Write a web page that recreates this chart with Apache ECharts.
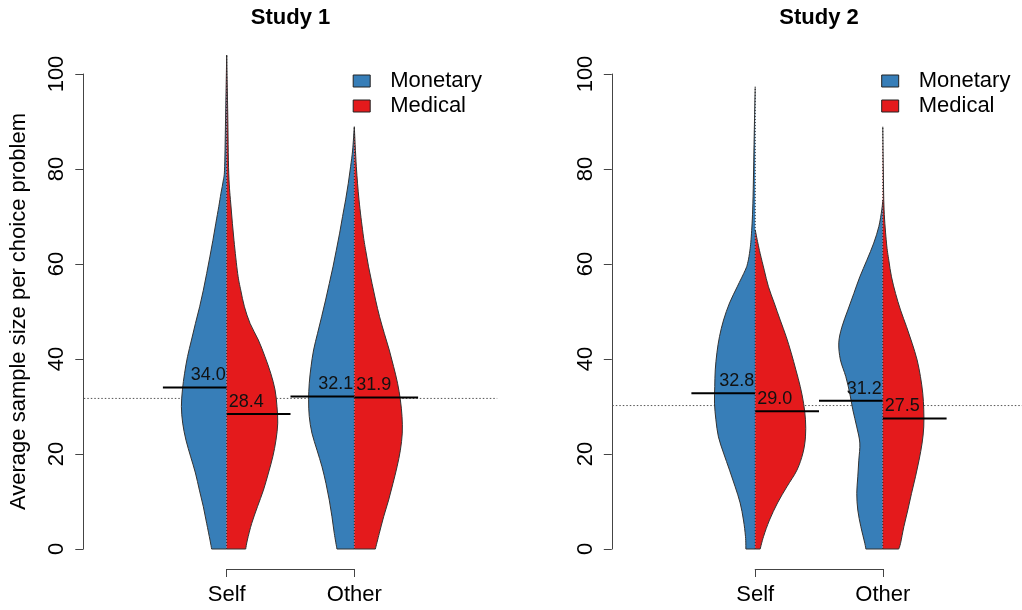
<!DOCTYPE html>
<html>
<head>
<meta charset="utf-8">
<script src="https://cdn.jsdelivr.net/npm/echarts@6/dist/echarts.min.js"></script>
<style>
html, body { margin: 0; padding: 0; background: #fff; }
#chart { width: 1022px; height: 610px; }
</style>
</head>
<body>
<div id="chart"></div>
<script>
// ---------------- DATA ----------------
const categories = ['Self', 'Other'];
const groupNames = ['Monetary', 'Medical'];
const studyTitles = ['Study 1', 'Study 2'];
const yAxisTitle = 'Average sample size per choice problem';
const yMin = 0, yMax = 100, yStep = 20;

const study1MonetaryMeans = [34.0, 32.1];
const study1MedicalMeans = [28.4, 31.9];
const study2MonetaryMeans = [32.8, 31.2];
const study2MedicalMeans = [29.0, 27.5];
const referenceLines = [31.7, 30.2];

// density profiles: [sample size, half-width as fraction of category spacing]
const study1SelfMonetary = [[104,0],[92,0.008],[80.5,0.016],[77.7,0.026],[74.9,0.045],[72.1,0.062],[68.6,0.085],[65,0.108],[61.5,0.132],[58,0.157],[54.5,0.183],[51,0.212],[47.5,0.245],[44,0.276],[40.5,0.307],[37,0.330],[33.5,0.347],[30,0.355],[26.5,0.345],[22.9,0.319],[19.4,0.282],[16,0.245],[12.4,0.214],[8.9,0.183],[5.4,0.157],[1.9,0.131],[0,0.118]];
const study1SelfMedical = [[104,0],[92,0.008],[79,0.016],[72,0.034],[65,0.057],[58,0.086],[54.5,0.110],[51,0.139],[47.5,0.183],[44,0.248],[40.5,0.300],[37,0.345],[33.5,0.379],[30,0.394],[26.5,0.400],[22.9,0.386],[19.4,0.361],[16,0.327],[12.4,0.288],[8.9,0.241],[5.4,0.196],[1.9,0.162],[0,0.149]];
const study1OtherMonetary = [[88.9,0],[84,0.013],[80.5,0.029],[77,0.047],[73.5,0.068],[70,0.092],[66.5,0.115],[62.9,0.141],[59.4,0.167],[55.9,0.196],[52.4,0.225],[48.9,0.256],[45.4,0.288],[41.9,0.319],[38.4,0.339],[34.9,0.353],[31.4,0.358],[27.9,0.353],[24.4,0.332],[20.8,0.292],[17.3,0.253],[13.8,0.222],[10.3,0.196],[6.8,0.175],[3.3,0.157],[0,0.136]];
const study1OtherMedical = [[88.9,0],[80.5,0.016],[73.5,0.037],[66.5,0.068],[62.9,0.089],[59.4,0.112],[55.9,0.139],[52.4,0.167],[48.9,0.198],[45.4,0.235],[41.9,0.274],[38.4,0.308],[34.9,0.339],[31.4,0.361],[27.9,0.374],[24.4,0.376],[20.8,0.361],[17.3,0.335],[13.8,0.303],[10.3,0.269],[6.8,0.230],[3.3,0.196],[0,0.165]];
const study2SelfMonetary = [[97.3,0],[86.8,0.008],[72.8,0.018],[65.7,0.031],[62.2,0.045],[60.1,0.060],[58.7,0.078],[55.2,0.141],[51.8,0.201],[48.2,0.248],[44.7,0.280],[41.3,0.300],[37.7,0.313],[34.2,0.317],[30.7,0.319],[27.2,0.308],[23.6,0.288],[20.2,0.248],[16.6,0.201],[13.1,0.157],[9.7,0.118],[6.1,0.092],[2.6,0.076],[0,0.073]];
const study2SelfMedical = [[67.2,0],[64.4,0.021],[62.2,0.039],[58.7,0.071],[55.2,0.104],[51.8,0.149],[48.2,0.196],[44.7,0.243],[41.3,0.282],[37.7,0.319],[34.2,0.353],[30.7,0.379],[27.2,0.394],[23.6,0.394],[20.2,0.374],[16.6,0.327],[13.1,0.248],[9.7,0.175],[6.1,0.112],[2.6,0.065],[0,0.039]];
const study2OtherMonetary = [[73.5,0],[71.4,0.008],[67.9,0.031],[64.4,0.071],[60.8,0.125],[57.3,0.180],[53.8,0.227],[50.3,0.274],[46.7,0.321],[43.4,0.345],[39.8,0.332],[36.3,0.290],[32.8,0.259],[29.3,0.235],[25.7,0.204],[22.3,0.180],[18.7,0.188],[15.2,0.196],[11.7,0.204],[8.2,0.196],[4.7,0.172],[1.2,0.141],[0,0.133]];
const study2OtherMedical = [[88.9,0],[80,0.004],[71.4,0.010],[64.4,0.029],[60.8,0.047],[57.3,0.068],[53.8,0.100],[50.3,0.139],[46.8,0.186],[43.3,0.230],[39.8,0.269],[36.3,0.295],[32.8,0.313],[29.3,0.321],[25.7,0.321],[22.3,0.308],[18.7,0.284],[15.2,0.256],[11.7,0.225],[8.2,0.196],[4.7,0.165],[1.2,0.139],[0,0.125]];

// ---------------- STYLE / LAYOUT ----------------
const FONT = '"Liberation Sans", Arial, Helvetica, sans-serif';
const COLORS = ['#377EB8', '#E41A1C'];
const PLOT_PAD = 1.12;       // plot region extends this many category spacings beyond outer categories
const MEAN_LINE_HALF = 0.5;  // mean bar length in category spacings

const studies = [
  { profiles: [[study1SelfMonetary, study1OtherMonetary], [study1SelfMedical, study1OtherMedical]],
    means: [study1MonetaryMeans, study1MedicalMeans], ref: referenceLines[0] },
  { profiles: [[study2SelfMonetary, study2OtherMonetary], [study2SelfMedical, study2OtherMedical]],
    means: [study2MonetaryMeans, study2MedicalMeans], ref: referenceLines[1] }
];

const gridLefts = [226.7, 755.2];
const gridWidth = 127.6;
const axisOffset = 143.4;

function curveSegments(pts, cx, side) {
  let d = '';
  const n = pts.length;
  for (let k = 0; k < n - 1; k++) {
    const p0 = pts[Math.max(k - 1, 0)], p1 = pts[k], p2 = pts[k + 1], p3 = pts[Math.min(k + 2, n - 1)];
    let c1x = p1[0] + (p2[0] - p0[0]) / 6, c1y = p1[1] + (p2[1] - p0[1]) / 6;
    let c2x = p2[0] - (p3[0] - p1[0]) / 6, c2y = p2[1] - (p3[1] - p1[1]) / 6;
    if (side < 0) { c1x = Math.min(c1x, cx); c2x = Math.min(c2x, cx); }
    else { c1x = Math.max(c1x, cx); c2x = Math.max(c2x, cx); }
    d += ' C' + c1x + ',' + c1y + ' ' + c2x + ',' + c2y + ' ' + p2[0] + ',' + p2[1];
  }
  return d;
}

function violinRenderer(profiles, side, color) {
  return function (params, api) {
    const i = params.dataIndex;
    const prof = profiles[i];
    const mean = api.value(1);
    const cx = api.coord([i, 0])[0];
    const unit = api.coord([1, 0])[0] - api.coord([0, 0])[0];
    const pts = prof.map(function (p) {
      return [cx + side * p[1] * unit, api.coord([i, p[0]])[1]];
    });
    const curve = curveSegments(pts, cx, side);
    const bottomY = pts[pts.length - 1][1];
    const start = 'M' + pts[0][0] + ',' + pts[0][1];
    const fillD = start + curve + ' L' + cx + ',' + bottomY + ' Z';
    const edgeD = start + curve + ' L' + cx + ',' + bottomY;
    const my = api.coord([i, mean])[1];
    return {
      type: 'group',
      children: [
        { type: 'path', shape: { pathData: fillD }, style: { fill: color, stroke: 'none' } },
        { type: 'path', shape: { pathData: edgeD }, style: { fill: 'none', stroke: '#333', lineWidth: 1 } },
        { type: 'line', shape: { x1: cx, y1: my, x2: cx + side * MEAN_LINE_HALF * unit, y2: my },
          style: { stroke: '#000', lineWidth: 2 } },
        { type: 'text', x: side < 0 ? cx - 1 : cx + 2, y: my - 3,
          style: { text: mean.toFixed(1), font: '18px ' + FONT, fill: '#111',
                   align: side < 0 ? 'right' : 'left', verticalAlign: 'bottom' } }
      ]
    };
  };
}

function refRenderer(params, api) {
  const v = api.value(1);
  const y = api.coord([0, v])[1];
  const x0 = api.coord([0, v])[0], x1 = api.coord([1, v])[0];
  const unit = x1 - x0;
  return { type: 'line', shape: { x1: x0 - PLOT_PAD * unit, y1: y, x2: x1 + PLOT_PAD * unit, y2: y },
           style: { stroke: '#555', lineWidth: 1, lineDash: [1.5, 2] } };
}

function centerRenderer(profiles) {
  return function (params, api) {
    const i = params.dataIndex;
    const top = Math.max(profiles[0][i][0][0], profiles[1][i][0][0]);
    const p0 = api.coord([i, 0]), p1 = api.coord([i, top]);
    return { type: 'line', shape: { x1: p0[0], y1: p0[1], x2: p1[0], y2: p1[1] },
             style: { stroke: '#222', lineWidth: 1, lineDash: [1, 2] } };
  };
}

const grids = [], xAxes = [], yAxes = [], series = [], titles = [], legends = [];
studies.forEach(function (st, s) {
  grids.push({ left: gridLefts[s], width: gridWidth, top: 74, height: 475 });
  xAxes.push({
    type: 'category', gridIndex: s, data: categories, boundaryGap: false, position: 'bottom', offset: 20,
    axisLine: { show: true, onZero: false, lineStyle: { color: '#444', width: 1 } },
    axisTick: { show: true, length: 8, lineStyle: { color: '#444' } },
    axisLabel: { fontSize: 22, fontFamily: FONT, color: '#000', margin: 15 },
    splitLine: { show: false }
  });
  yAxes.push({
    type: 'value', gridIndex: s, min: yMin, max: yMax, interval: yStep, position: 'left', offset: axisOffset,
    axisLine: { show: true, onZero: false, lineStyle: { color: '#444', width: 1 } },
    axisTick: { show: true, length: 8, lineStyle: { color: '#444' } },
    axisLabel: { fontSize: 22, fontFamily: FONT, color: '#000', rotate: 90, margin: 15 },
    splitLine: { show: false },
    name: s === 0 ? yAxisTitle : '',
    nameLocation: 'middle', nameRotate: 90, nameGap: 53,
    nameTextStyle: { fontSize: 22, fontFamily: FONT, color: '#000' }
  });
  titles.push({
    text: studyTitles[s], left: gridLefts[s] + gridWidth / 2, top: 7, textAlign: 'center', padding: 0,
    textStyle: { fontSize: 22, fontWeight: 'bold', fontFamily: FONT, color: '#000' }
  });
  legends.push({
    data: groupNames, orient: 'vertical', left: gridLefts[s] + 126, top: 70, padding: 0,
    itemWidth: 17, itemHeight: 12, itemGap: 3, icon: 'rect', selectedMode: false,
    itemStyle: { borderColor: '#222', borderWidth: 1 },
    textStyle: { fontSize: 22, fontFamily: FONT, color: '#000', lineHeight: 22, padding: [0, 0, 0, 15] }
  });
  series.push({
    type: 'custom', name: 'reference', xAxisIndex: s, yAxisIndex: s, clip: false, silent: true,
    data: [[0, st.ref]], encode: { x: 0, y: 1 }, renderItem: refRenderer
  });
  [0, 1].forEach(function (g) {
    series.push({
      type: 'custom', name: groupNames[g], xAxisIndex: s, yAxisIndex: s, clip: false,
      itemStyle: { color: COLORS[g] },
      data: st.means[g].map(function (m, i) { return [i, m]; }),
      encode: { x: 0, y: 1 },
      renderItem: violinRenderer(st.profiles[g], g === 0 ? -1 : 1, COLORS[g])
    });
  });
  series.push({
    type: 'custom', name: 'center', xAxisIndex: s, yAxisIndex: s, clip: false, silent: true,
    data: [[0, 0], [1, 0]], encode: { x: 0, y: 1 }, renderItem: centerRenderer(st.profiles)
  });
});

const chart = echarts.init(document.getElementById('chart'), null, { renderer: 'canvas' });
chart.setOption({
  backgroundColor: '#fff',
  animation: false,
  color: COLORS,
  title: titles,
  legend: legends,
  grid: grids,
  xAxis: xAxes,
  yAxis: yAxes,
  series: series
});
</script>
</body>
</html>
